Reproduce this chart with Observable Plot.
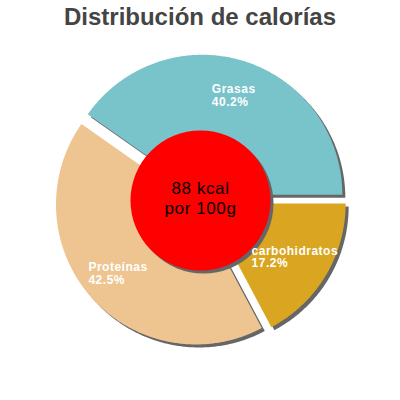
<!DOCTYPE html>
<html><head><meta charset="utf-8">
<script src="https://cdn.jsdelivr.net/npm/d3@7"></script>
<script src="https://cdn.jsdelivr.net/npm/@observablehq/plot@0.6"></script>
<style>
body{margin:0;background:#fff;width:400px;height:400px;overflow:hidden;font-family:"Liberation Sans",Arial,sans-serif}
#title{height:34px;line-height:34px;text-align:center;font-size:24px;font-weight:bold;color:#444;}
#chart svg{display:block}
</style></head><body>
<div id="title">Distribución de calorías</div>
<div id="chart"></div>
<script>
const categories = ["Grasas", "carbohidratos", "Proteínas"];
const percents = [40.2, 17.2, 42.5];
const percentLabels = ["40.2%", "17.2%", "42.5%"];
const colors = ["#79c3cb", "#daa520", "#eec591"];
const centerLabel = "88 kcal\npor 100g";

const R = 140, EXPLODE = 6, LABEL_R = 104, HOLE_R = 70;
const total = d3.sum(percents);
const start = Math.PI / 2 - 2 * Math.PI * percents[0] / total;
const arcs = d3.pie().sort(null).startAngle(start).endAngle(start + 2 * Math.PI)(percents);

const pts = [];
const labels = [];
const ctx = document.createElement("canvas").getContext("2d");
ctx.font = "bold 12px 'Liberation Sans', Arial, sans-serif";
arcs.forEach((a, i) => {
  const mid = (a.startAngle + a.endAngle) / 2;
  const ox = EXPLODE * Math.sin(mid), oy = EXPLODE * Math.cos(mid);
  const n = Math.ceil((a.endAngle - a.startAngle) / 0.01);
  pts.push({name: categories[i], x: ox, y: oy});
  for (let k = 0; k <= n; ++k) {
    const t = a.startAngle + (a.endAngle - a.startAngle) * k / n;
    pts.push({name: categories[i], x: ox + R * Math.sin(t), y: oy + R * Math.cos(t)});
  }
  pts.push({name: categories[i], x: ox, y: oy});
  const txt = categories[i] + "\n" + percentLabels[i];
  const w = Math.max(ctx.measureText(categories[i]).width + categories[i].length * 0.5,
                     ctx.measureText(percentLabels[i]).width);
  labels.push({x: ox + LABEL_R * Math.sin(mid) - w / 2, y: oy + LABEL_R * Math.cos(mid), text: txt});
});

const chart = Plot.plot({
  width: 400, height: 366, margin: 0,
  style: {fontFamily: "'Liberation Sans', Arial, sans-serif", background: "transparent"},
  x: {domain: [-200, 200], axis: null},
  y: {domain: [-200, 166], axis: null},
  color: {domain: categories, range: colors},
  marks: [
    Plot.line(pts, {x: "x", y: "y", z: "name", fill: "#666", stroke: "none", dx: 3, dy: 3}),
    Plot.line(pts, {x: "x", y: "y", z: "name", fill: "name", stroke: "none"}),
    Plot.dot([{x: 0, y: 0}], {x: "x", y: "y", r: HOLE_R, fill: "#666", stroke: "none", dx: 3, dy: 3}),
    Plot.dot([{x: 0, y: 0}], {x: "x", y: "y", r: HOLE_R, fill: "red", stroke: "none"}),
    Plot.text(labels, {x: "x", y: "y", text: "text", textAnchor: "start", lineAnchor: "middle",
      fill: "white", fontSize: 12, fontWeight: "bold", lineHeight: 1.05}),
    Plot.text([{x: 0, y: 0, text: centerLabel}], {x: "x", y: "y", text: "text", lineAnchor: "middle",
      fill: "black", fontSize: 17, lineHeight: 1.15, dy: -3})
  ]
});
d3.select(chart).selectAll("g").each(function () {
  const f = this.getAttribute("fill");
  if (f === "white") d3.select(this).style("letter-spacing", "0.5px");
  if (f === "black") d3.select(this).style("letter-spacing", "0.6px");
});
document.getElementById("chart").appendChild(chart);
</script>
</body></html>
